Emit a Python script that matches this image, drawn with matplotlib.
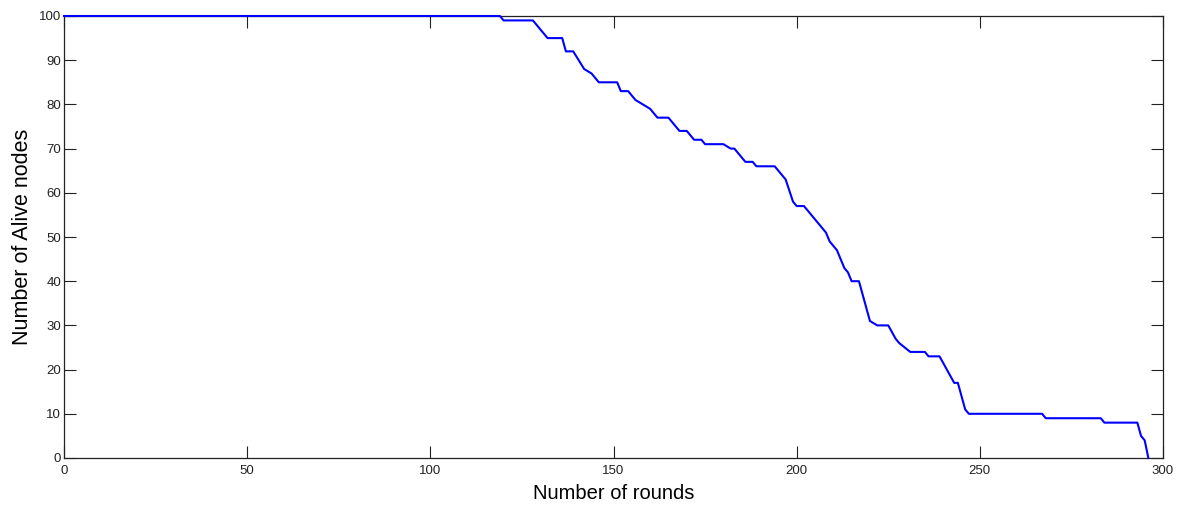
import matplotlib
matplotlib.use('Agg')
import matplotlib.pyplot as plt

# ---------------------------------------------------------------------------
# data (round, number of alive nodes)
rounds = [0, 119, 120, 128, 132, 136, 137, 139, 142, 144, 146, 151, 152, 154,
          156, 158, 160, 162, 165, 168, 170, 172, 174, 175, 180, 182, 183,
          186, 188, 189, 194, 195, 197, 199, 200, 202, 208, 209, 211, 213,
          214, 215, 217, 219, 220, 222, 225, 227, 228, 231, 235, 236, 239,
          241, 243, 244, 246, 247, 267, 268, 283, 284, 293, 294, 295, 296]
alive = [100, 100, 99, 99, 95, 95, 92, 92, 88, 87, 85, 85, 83, 83,
         81, 80, 79, 77, 77, 74, 74, 72, 72, 71, 71, 70, 70,
         67, 67, 66, 66, 65, 63, 58, 57, 57, 51, 49, 47, 43,
         42, 40, 40, 34, 31, 30, 30, 27, 26, 24, 24, 23, 23,
         20, 17, 17, 11, 10, 10, 9, 9, 8, 8, 5, 4, 0]

x_ticks = [0, 50, 100, 150, 200, 250, 300]
y_ticks = [0, 10, 20, 30, 40, 50, 60, 70, 80, 90, 100]

# ---------------------------------------------------------------------------
plt.rcParams['font.family'] = ['Liberation Sans', 'DejaVu Sans']

fig = plt.figure(figsize=(11.8, 5.05), dpi=100)
ax = fig.add_axes([64 / 1180, 47 / 505, 1099 / 1180, 442 / 505])

# line drawn above the box so the flat part at 100 shows on the top edge
ax.plot(rounds, alive, color='#0000ff', linewidth=1.5, zorder=3, clip_on=False)

ax.set_xlim(0, 300)
ax.set_ylim(0, 100)
ax.set_xticks(x_ticks)
ax.set_yticks(y_ticks)
ax.tick_params(direction='in', length=8.5, width=0.8, top=True, right=True,
               labelsize=9.5, colors='#222222')
ax.tick_params(axis='x', pad=5)
ax.tick_params(axis='y', pad=2)
for sp in ax.spines.values():
    sp.set_color('#222222')
    sp.set_linewidth(0.9)

ax.set_xlabel('Number of rounds', fontsize=14.5, labelpad=5)
ax.set_ylabel('Number of Alive nodes', fontsize=15.5, labelpad=4)

fig.savefig('out.png', dpi=100)
